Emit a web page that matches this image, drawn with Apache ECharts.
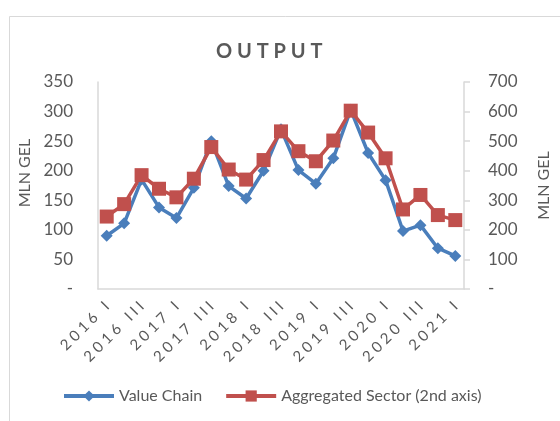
<!DOCTYPE html>
<html>
<head>
<meta charset="utf-8">
<script src="https://cdn.jsdelivr.net/npm/echarts@6/dist/echarts.min.js"></script>
<style>
  html, body { margin: 0; padding: 0; background: #fff; }
  #chart-container { width: 560px; height: 421px; }
</style>
</head>
<body>
<div id="chart-container"></div>
<script>
var quarters = [
  "2016 I", "2016 II", "2016 III", "2016 IV",
  "2017 I", "2017 II", "2017 III", "2017 IV",
  "2018 I", "2018 II", "2018 III", "2018 IV",
  "2019 I", "2019 II", "2019 III", "2019 IV",
  "2020 I", "2020 II", "2020 III", "2020 IV",
  "2021 I"
];
var valueChain = [90, 111, 185, 138, 120, 171, 250, 174, 153, 200, 270, 201, 178, 221, 303, 230, 184, 98, 108, 69, 56];
var aggregatedSector = [245, 287, 385, 339, 310, 373, 480, 404, 370, 436, 533, 466, 432, 502, 603, 529, 442, 269, 318, 250, 233];

var dom = document.getElementById("chart-container");
var myChart = echarts.init(dom, null, { renderer: "canvas" });

var font = "Lato, 'Open Sans', sans-serif";
var grey = "#595959";
var lineGrey = "#d9d9d9";

function dash(v) {
  return v === 0 ? "-" : v;
}

var option = {
  animation: false,
  backgroundColor: "#fff",
  textStyle: { fontFamily: font, color: grey },
  graphic: [
    {
      type: "rect",
      shape: { x: 9.5, y: 16.5, width: 700, height: 600 },
      style: { fill: "none", stroke: lineGrey, lineWidth: 1 },
      silent: true
    }
  ],
  title: {
    text: "O U T P U T",
    left: 211,
    top: 37,
    textStyle: { fontFamily: font, fontSize: 20, fontWeight: "bold", color: grey }
  },
  legend: {
    bottom: 12,
    left: 57,
    itemWidth: 50,
    itemHeight: 14,
    itemGap: 22,
    lineStyle: { width: 4 },
    textStyle: { fontFamily: font, fontSize: 16, color: grey },
    data: ["Value Chain", "Aggregated Sector (2nd axis)"]
  },
  grid: { left: 98, right: 87, top: 82, bottom: 132 },
  xAxis: {
    type: "category",
    data: quarters,
    boundaryGap: true,
    axisLine: { lineStyle: { color: lineGrey, width: 1.5 } },
    axisTick: { show: false },
    axisLabel: {
      interval: 1,
      rotate: 45,
      margin: 15,
      fontSize: 15,
      color: grey,
      fontFamily: font,
      formatter: function (value) {
        return value.split("").join(" ");
      }
    },
    splitLine: { show: false }
  },
  yAxis: [
    {
      type: "value",
      min: 0,
      max: 350,
      interval: 50,
      name: "MLN GEL",
      nameLocation: "middle",
      nameRotate: 90,
      nameGap: 56,
      nameTextStyle: { fontFamily: font, fontSize: 16, color: grey, padding: [0, 0, 0, 25] },
      axisLine: { show: true, lineStyle: { color: lineGrey, width: 1.5 } },
      axisTick: { show: false },
      axisLabel: { margin: 25, fontSize: 17, color: grey, fontFamily: font, formatter: dash },
      splitLine: { show: false }
    },
    {
      type: "value",
      position: "right",
      min: 0,
      max: 700,
      interval: 100,
      name: "MLN GEL",
      nameLocation: "middle",
      nameRotate: 90,
      nameGap: 72,
      nameTextStyle: { fontFamily: font, fontSize: 16, color: grey },
      axisLine: { show: true, lineStyle: { color: lineGrey, width: 1.5 } },
      axisTick: { show: true, inside: false, length: 6, lineStyle: { color: lineGrey, width: 1.5 } },
      axisLabel: { margin: 24, fontSize: 17, color: grey, fontFamily: font, formatter: dash },
      splitLine: { show: false }
    }
  ],
  series: [
    {
      name: "Value Chain",
      type: "line",
      yAxisIndex: 0,
      data: valueChain,
      symbol: "diamond",
      symbolSize: 12,
      showAllSymbol: true,
      lineStyle: { color: "#4a7ebb", width: 3.5 },
      itemStyle: { color: "#4a7ebb" }
    },
    {
      name: "Aggregated Sector (2nd axis)",
      type: "line",
      yAxisIndex: 1,
      data: aggregatedSector,
      symbol: "rect",
      symbolSize: 14,
      showAllSymbol: true,
      lineStyle: { color: "#c0504d", width: 3.5 },
      itemStyle: { color: "#c0504d" }
    }
  ]
};

myChart.setOption(option);
window.addEventListener("resize", myChart.resize);
</script>
</body>
</html>
